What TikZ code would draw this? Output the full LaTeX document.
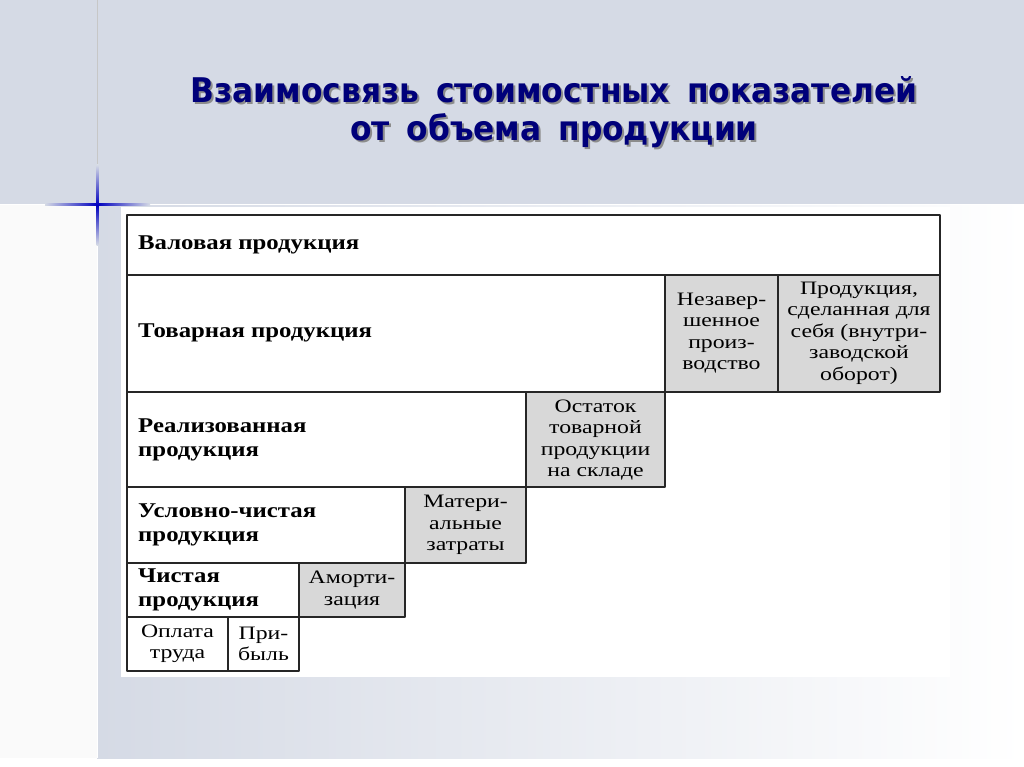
\documentclass[tikz,border=0pt]{standalone}
\usepackage{fontspec}
\setmainfont{Liberation Serif}
\newfontfamily\tabfont[FakeStretch=1.18]{Liberation Serif}
\newfontfamily\cellfont[FakeStretch=1.25]{Liberation Serif}
\newfontfamily\titlefont[FakeStretch=0.92]{DejaVu Sans}
\usetikzlibrary{positioning}

\definecolor{slideblue}{HTML}{D5DAE5}
\definecolor{cellgray}{HTML}{D8D8D8}
\definecolor{titlenavy}{HTML}{00007A}

\tikzset{
  frame/.style={draw=black!85, line width=1.3pt},
  graycell/.style={frame, fill=cellgray},
  rowtext/.style={anchor=west, align=left, inner sep=0pt, font=\tabfont\bfseries\fontsize{21}{24}\selectfont},
  celltext/.style={align=center, inner sep=0pt, font=\cellfont\fontsize{19}{21.5}\selectfont},
  titletext/.style={align=center, inner sep=0pt, font=\titlefont\bfseries\fontsize{34}{38}\selectfont}
}

\begin{document}
\begin{tikzpicture}[x=1pt, y=-1pt, line join=round]
  \useasboundingbox (0,0) rectangle (1024,767);

  % slide background
  \fill[white] (0,0) rectangle (1024,767);
  \fill[slideblue] (0,0) rectangle (1024,204);
  \fill[black!2] (0,205) rectangle (97,758);
  \shade[left color=slideblue, right color=white] (97,205) rectangle (1024,758);
  \draw[white, line width=1pt] (0,204.5) -- (1024,204.5);
  \draw[black!22, line width=0.8pt] (97,0) -- (97,204);
  \draw[white, line width=0.8pt] (97,205) -- (97,758);

  % blue cross
  \shade[left color=slideblue, right color=slideblue, middle color=blue!75!black] (45,203.5) rectangle (150,205.5);
  \shade[top color=slideblue, bottom color=slideblue, middle color=blue!75!black] (96.5,165) rectangle (98.5,245);

  % title
  \node[titletext, text=black!45] (titleshadow) at (556,114) {Взаимосвязь\enspace стоимостных\enspace показателей\\от\enspace объема\enspace продукции};
  \node[titletext, text=titlenavy] (title) at (554,112) {Взаимосвязь\enspace стоимостных\enspace показателей\\от\enspace объема\enspace продукции};

  % table
  \def\xL{127}
  \def\xR{940}
  \def\cA{228}
  \def\cB{299}
  \def\cC{405}
  \def\cD{526}
  \def\cE{665}
  \def\cF{778}
  \def\rA{215}
  \def\rB{275}
  \def\rC{392}
  \def\rD{487}
  \def\rE{563}
  \def\rF{617}
  \def\rG{671}

  \fill[white] (121,207) rectangle (950,677);

  \draw[frame] (\xL,\rA) rectangle (\xR,\rB);
  \draw[frame] (\xL,\rB) rectangle (\cE,\rC);
  \draw[graycell] (\cE,\rB) rectangle (\cF,\rC);
  \draw[graycell] (\cF,\rB) rectangle (\xR,\rC);
  \draw[frame] (\xL,\rC) rectangle (\cD,\rD);
  \draw[graycell] (\cD,\rC) rectangle (\cE,\rD);
  \draw[frame] (\xL,\rD) rectangle (\cC,\rE);
  \draw[graycell] (\cC,\rD) rectangle (\cD,\rE);
  \draw[frame] (\xL,\rE) rectangle (\cB,\rF);
  \draw[graycell] (\cB,\rE) rectangle (\cC,\rF);
  \draw[frame] (\xL,\rF) rectangle (\cA,\rG);
  \draw[frame] (\cA,\rF) rectangle (\cB,\rG);

  % row labels
  \node[rowtext] (gross) at (138,245) {Валовая продукция};
  \node[rowtext] (market) at (138,333) {Товарная продукция};
  \node[rowtext] (sold) at (138,440) {Реализованная\\продукция};
  \node[rowtext] (condnet) at (138,525) {Условно-чистая\\продукция};
  \node[rowtext] (net) at (138,590) {Чистая\\продукция};

  % cell texts
  \node[celltext] (wip) at (721.5,333) {Незавер-\\шенное\\произ-\\водство};
  \node[celltext] (own) at (859,333) {Продукция,\\сделанная для\\себя (внутри-\\заводской\\оборот)};
  \node[celltext] (stock) at (595.5,440) {Остаток\\товарной\\продукции\\на складе};
  \node[celltext] (mat) at (465.5,525) {Матери-\\альные\\затраты};
  \node[celltext] (amort) at (352,590) {Аморти-\\зация};
  \node[celltext] (wage) at (177.5,644) {Оплата\\труда};
  \node[celltext] (profit) at (263.5,644) {При-\\быль};
\end{tikzpicture}
\end{document}
